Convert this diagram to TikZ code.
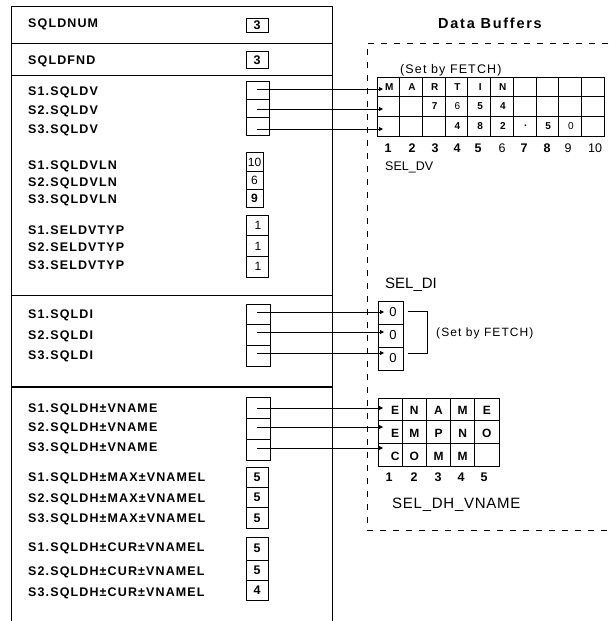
\documentclass[tikz,border=0pt]{standalone}
\usepackage{fontspec}
\setmainfont{Liberation Sans}
\newfontfamily\lblfont[LetterSpace=9]{Liberation Sans}
\newfontfamily\setfont[LetterSpace=9]{Liberation Sans}
\newfontfamily\ttlfont[LetterSpace=12]{Liberation Sans}
\newfontfamily\dhfont[LetterSpace=5]{Liberation Sans}
\usetikzlibrary{arrows.meta}
\tikzset{
  lbl/.style={anchor=west, inner sep=0pt, font=\lblfont\bfseries\fontsize{12.5}{14}\selectfont},
  cell/.style={draw, line width=0.8pt, inner sep=0pt, outer sep=0pt, font=\fontsize{12}{14}\selectfont},
  gcell/.style={draw, line width=0.8pt, inner sep=0pt, outer sep=0pt},
  gtxt/.style={inner sep=0pt, font=\bfseries\fontsize{10}{12}\selectfont},
  dhtxt/.style={inner sep=0pt, font=\bfseries\fontsize{12}{14}\selectfont},
  idx/.style={inner sep=0pt, font=\bfseries\fontsize{12.5}{14}\selectfont},
  conn/.style={line width=0.8pt, -{Triangle[length=4pt,width=4pt]}},
  frame/.style={line width=1pt},
  buf/.style={line width=0.9pt, dash pattern=on 6pt off 7pt},
}
\begin{document}
\begin{tikzpicture}[x=1pt,y=-1pt]
\fill[white] (0,0) rectangle (608,621);
\useasboundingbox (0,0) rectangle (608,621);

% ---------- left panel ----------
\draw[frame] (11,625) -- (11,6) -- (332,6) -- (332,625);
\draw[frame] (11,43) -- (332,43);
\draw[frame] (11,75) -- (332,75);
\draw[frame] (11,295) -- (332,295);
\draw[line width=2.2pt] (11,387) -- (332,387);

\node[lbl] (l-num) at (28,24) {SQLDNUM};
\node[cell, minimum width=22pt, minimum height=14pt, font=\bfseries\fontsize{12.5}{14}\selectfont] (b-num) at (257,25) {3};
\node[lbl] (l-fnd) at (28,61) {SQLDFND};
\node[cell, minimum width=22pt, minimum height=17pt, font=\bfseries\fontsize{12.5}{14}\selectfont] (b-fnd) at (257,60) {3};

% SQLDV
\node[lbl] (l-dv1) at (28,92) {S1.SQLDV};
\node[lbl] (l-dv2) at (28,111) {S2.SQLDV};
\node[lbl] (l-dv3) at (28,130) {S3.SQLDV};
\node[cell, minimum width=23pt, minimum height=18pt] (b-dv1) at (257.5,90) {};
\node[cell, minimum width=23pt, minimum height=18pt] (b-dv2) at (257.5,108) {};
\node[cell, minimum width=23pt, minimum height=18pt] (b-dv3) at (257.5,126) {};

% SQLDVLN
\node[lbl] (l-vl1) at (28,166) {S1.SQLDVLN};
\node[lbl] (l-vl2) at (28,183) {S2.SQLDVLN};
\node[lbl] (l-vl3) at (28,200) {S3.SQLDVLN};
\node[cell, minimum width=17pt, minimum height=18.3pt] (b-vl1) at (254.5,162) {10};
\node[cell, minimum width=17pt, minimum height=18.3pt] (b-vl2) at (254.5,180.3) {6};
\node[cell, minimum width=17pt, minimum height=18.3pt] (b-vl3) at (254.5,198.6) {\textbf{9}};

% SELDVTYP
\node[lbl] (l-ty1) at (28,230) {S1.SELDVTYP};
\node[lbl] (l-ty2) at (28,247) {S2.SELDVTYP};
\node[lbl] (l-ty3) at (28,265) {S3.SELDVTYP};
\node[cell, minimum width=22pt, minimum height=20.67pt] (b-ty1) at (257,225.3) {\,1};
\node[cell, minimum width=22pt, minimum height=20.67pt] (b-ty2) at (257,246) {\,1};
\node[cell, minimum width=22pt, minimum height=20.67pt] (b-ty3) at (257,266.7) {\,1};

% SQLDI
\node[lbl] (l-di1) at (28,315) {S1.SQLDI};
\node[lbl] (l-di2) at (28,336) {S2.SQLDI};
\node[lbl] (l-di3) at (28,356) {S3.SQLDI};
\node[cell, minimum width=24pt, minimum height=20.67pt] (b-di1) at (258,314.3) {};
\node[cell, minimum width=24pt, minimum height=20.67pt] (b-di2) at (258,335) {};
\node[cell, minimum width=24pt, minimum height=20.67pt] (b-di3) at (258,355.7) {};

% SQLDH-VNAME
\node[lbl] (l-dh1) at (28,409) {S1.SQLDH±VNAME};
\node[lbl] (l-dh2) at (28,428) {S2.SQLDH±VNAME};
\node[lbl] (l-dh3) at (28,448) {S3.SQLDH±VNAME};
\node[cell, minimum width=24pt, minimum height=21pt] (b-dh1) at (258,407.5) {};
\node[cell, minimum width=24pt, minimum height=21pt] (b-dh2) at (258,428.5) {};
\node[cell, minimum width=24pt, minimum height=21pt] (b-dh3) at (258,449.5) {};

% SQLDH-MAX-VNAMEL
\node[lbl] (l-mx1) at (28,478) {S1.SQLDH±MAX±VNAMEL};
\node[lbl] (l-mx2) at (28,499) {S2.SQLDH±MAX±VNAMEL};
\node[lbl] (l-mx3) at (28,519) {S3.SQLDH±MAX±VNAMEL};
\node[cell, minimum width=22pt, minimum height=20.33pt, font=\bfseries\fontsize{12.5}{14}\selectfont] (b-mx1) at (257,477.2) {5};
\node[cell, minimum width=22pt, minimum height=20.33pt, font=\bfseries\fontsize{12.5}{14}\selectfont] (b-mx2) at (257,497.5) {5};
\node[cell, minimum width=22pt, minimum height=20.33pt, font=\bfseries\fontsize{12.5}{14}\selectfont] (b-mx3) at (257,517.8) {5};

% SQLDH-CUR-VNAMEL
\node[lbl] (l-cu1) at (28,548) {S1.SQLDH±CUR±VNAMEL};
\node[lbl] (l-cu2) at (28,572) {S2.SQLDH±CUR±VNAMEL};
\node[lbl] (l-cu3) at (28,593) {S3.SQLDH±CUR±VNAMEL};
\node[cell, minimum width=22pt, minimum height=23pt, font=\bfseries\fontsize{12.5}{14}\selectfont] (b-cu1) at (257,548.5) {5};
\node[cell, minimum width=22pt, minimum height=20pt, font=\bfseries\fontsize{12.5}{14}\selectfont] (b-cu2) at (257,570) {5};
\node[cell, minimum width=22pt, minimum height=20pt, font=\bfseries\fontsize{12.5}{14}\selectfont] (b-cu3) at (257,590) {4};

% ---------- data buffers ----------
\node[inner sep=0pt, font=\ttlfont\bfseries\fontsize{14.5}{16}\selectfont] (title) at (490,23) {Data Buffers};
\draw[buf] (608,43) -- (367,43) -- (367,530) -- (608,530);

% SEL_DV grid
\node[inner sep=0pt, anchor=west, font=\setfont\fontsize{12.5}{14}\selectfont] (set1) at (400,70) {(Set by FETCH)};
\foreach \r in {1,2,3}
  \foreach \c in {1,...,10}
    \node[gcell, minimum width=22.7pt, minimum height=19.67pt] (dv-\r-\c) at ({377+(\c-0.5)*22.7},{77+(\r-0.5)*19.67}) {};
\foreach \r/\c/\t in {1/1/M,1/2/A,1/3/R,1/4/T,1/5/I,1/6/N,
                      2/3/7,2/4/{\mdseries 6},2/5/5,2/6/4,
                      3/4/4,3/5/8,3/6/2,3/7/.,3/8/5,3/9/{\mdseries 0}}
  \node[gtxt] at ([xshift=1pt]dv-\r-\c) {\t};
\foreach \x/\t in {388/1,412/2,435/3,457/4,478/5,502/{\mdseries 6},524/7,547/8,568/{\mdseries 9},595/{\mdseries 10}}
  \node[idx] at (\x,148) {\t};
\node[inner sep=0pt, anchor=west, font=\fontsize{12.5}{14}\selectfont] (seldv) at (385,167) {SEL\_DV};

% SEL_DI
\node[inner sep=0pt, anchor=west, font=\fontsize{15}{17}\selectfont] (seldi) at (385,285) {SEL\_DI};
\foreach \r in {1,2,3}
  \node[gcell, minimum width=25pt, minimum height=23pt, font=\fontsize{13}{15}\selectfont] (di-\r) at (390.5,{301+(\r-0.5)*23}) {\hspace*{5pt}0};
\coordinate (brk1) at (408,311);
\coordinate (brk2) at (427,311);
\coordinate (brk3) at (427,353);
\coordinate (brk4) at (408,353);
\draw[line width=0.8pt] (brk1) -- (brk2) -- (brk3) -- (brk4);
\node[inner sep=0pt, anchor=west, font=\setfont\fontsize{12}{14}\selectfont] (set2) at (436,333) {(Set by FETCH)};

% SEL_DH_VNAME grid
\foreach \r in {1,2,3}
  \foreach \c in {1,...,5}
    \node[gcell, minimum width=24.2pt, minimum height=22.67pt] (dh-\r-\c) at ({378+(\c-0.5)*24.2},{398+(\r-0.5)*22.67}) {};
\foreach \r/\c/\t in {1/2/N,1/3/A,1/4/M,1/5/E,2/2/M,2/3/P,2/4/N,2/5/O,3/2/O,3/3/M,3/4/M}
  \node[dhtxt] at ([yshift=-1.5pt]dh-\r-\c) {\t};
\foreach \r/\t in {1/E,2/E,3/C}
  \node[dhtxt] at ([xshift=5pt,yshift=-1.5pt]dh-\r-1) {\t};
\foreach \x/\t in {389/1,414/2,438/3,461/4,484/5}
  \node[idx] at (\x,477) {\t};
\node[inner sep=0pt, anchor=west, font=\dhfont\fontsize{15}{17}\selectfont] (seldh) at (392,505) {SEL\_DH\_VNAME};

% ---------- connectors ----------
\foreach \i/\y in {1/89,2/109,3/129}{
  \coordinate (sdv\i) at (257,\y);
  \coordinate (tdv\i) at (383,\y);
  \draw[conn] (sdv\i) -- (tdv\i);
}
\foreach \i/\y in {1/312,2/332,3/353}{
  \coordinate (sdi\i) at (257,\y);
  \coordinate (tdi\i) at (384,\y);
  \draw[conn] (sdi\i) -- (tdi\i);
}
\foreach \i/\y in {1/408,2/427,3/448}{
  \coordinate (sdh\i) at (257,\y);
  \coordinate (tdh\i) at (383,\y);
  \draw[conn] (sdh\i) -- (tdh\i);
}
\end{tikzpicture}
\end{document}
